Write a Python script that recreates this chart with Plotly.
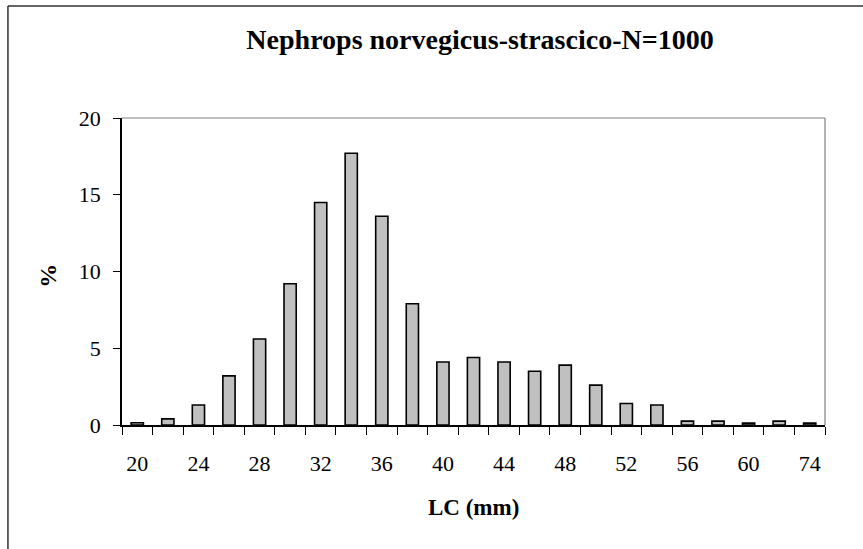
import plotly.graph_objects as go

# Data
lc_classes = ["20", "22", "24", "26", "28", "30", "32", "34", "36", "38", "40", "42",
              "44", "46", "48", "50", "52", "54", "56", "58", "60", "62", "74"]
percent = [0.15, 0.4, 1.3, 3.2, 5.6, 9.2, 14.5, 17.7, 13.6, 7.9, 4.1, 4.4,
           4.1, 3.5, 3.9, 2.6, 1.4, 1.3, 0.25, 0.25, 0.12, 0.25, 0.12]
shown_labels = ["20", "24", "28", "32", "36", "40", "44", "48", "52", "56", "60", "74"]
y_ticks = [0, 5, 10, 15, 20]

tick_text = [c if c in shown_labels else "" for c in lc_classes]

FONT = "Liberation Serif"
W, H = 863, 549
L, R, T, B = 122, 38.3, 118.3, 124
pw = W - L - R
ph = H - T - B

fig = go.Figure()
fig.add_trace(go.Bar(
    x=lc_classes, y=percent,
    marker=dict(color="#C0C0C0", line=dict(color="black", width=1.6)),
    hoverinfo="x+y",
))

fig.update_layout(
    width=W, height=H,
    margin=dict(l=L, r=R, t=T, b=B, pad=0),
    paper_bgcolor="white", plot_bgcolor="white",
    bargap=0.6,
    showlegend=False,
    font=dict(family=FONT, color="black", size=22),
    title=dict(
        text="<b>Nephrops norvegicus-strascico-N=1000</b>",
        x=480 / W, xanchor="center", xref="container",
        y=1 - 39 / H, yanchor="middle", yref="container",
        font=dict(family=FONT, size=28, color="black"),
    ),
    xaxis=dict(
        type="category",
        tickmode="array", tickvals=lc_classes, ticktext=tick_text,
        tickson="boundaries", tickangle=0,
        ticks="outside", ticklen=8, tickwidth=1, tickcolor="black",
        showline=True, linecolor="black", linewidth=1.5,
        showgrid=False, zeroline=False,
        tickfont=dict(family=FONT, size=22, color="black"),
        ticklabelstandoff=18,
    ),
    yaxis=dict(
        range=[0, 20], tickmode="array", tickvals=y_ticks,
        ticks="outside", ticklen=7, tickwidth=1, tickcolor="black",
        showline=True, linecolor="black", linewidth=1.5,
        showgrid=False, zeroline=False,
        tickfont=dict(family=FONT, size=22, color="black"),
        ticklabelstandoff=8,
    ),
    annotations=[
        dict(text="<b>LC (mm)</b>", x=0.5, xref="paper", xanchor="center",
             y=-(507 - (T + ph)) / ph, yref="paper", yanchor="middle",
             showarrow=False, font=dict(family=FONT, size=23, color="black")),
        dict(text="<b>%</b>", x=(48 - L) / pw, xref="paper", xanchor="center",
             y=(T + ph - 276) / ph, yref="paper", yanchor="middle",
             textangle=-90, showarrow=False,
             font=dict(family=FONT, size=24, color="black")),
    ],
    shapes=[
        # plot-area frame top and right (gray)
        dict(type="line", xref="paper", yref="paper", x0=0, x1=1, y0=1, y1=1,
             line=dict(color="#808080", width=1.2)),
        dict(type="line", xref="paper", yref="paper", x0=1, x1=1, y0=0, y1=1,
             line=dict(color="#808080", width=1.2)),
        # outer chart border (left and top)
        dict(type="line", xref="paper", yref="paper",
             x0=(8 - L) / pw, x1=(W + 10 - L) / pw,
             y0=(T + ph - 6.3) / ph, y1=(T + ph - 6.3) / ph,
             line=dict(color="#333333", width=1.5)),
        dict(type="line", xref="paper", yref="paper",
             x0=(8 - L) / pw, x1=(8 - L) / pw,
             y0=(T + ph - 6.3) / ph, y1=-(H + 10 - T - ph) / ph,
             line=dict(color="#333333", width=1.5)),
    ],
)

fig.write_html("out.html", config={"displayModeBar": False},
               post_script="document.body.style.margin='0';")
